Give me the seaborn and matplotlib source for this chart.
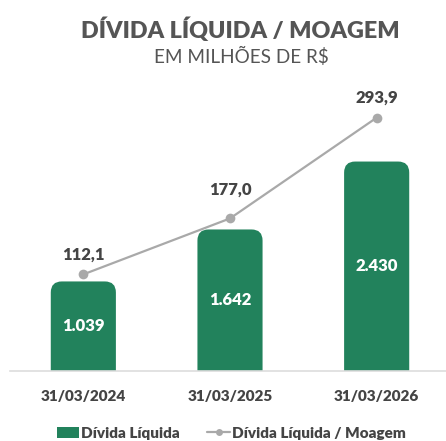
import pandas as pd
import numpy as np
import matplotlib.pyplot as plt
import seaborn as sns
from matplotlib.patches import FancyBboxPatch, Patch
from matplotlib.lines import Line2D

# dados
datas = ['31/03/2024', '31/03/2025', '31/03/2026']
divida_liquida = [1039, 1642, 2430]
divida_moagem = [112.1, 177.0, 293.9]
# deslocamento vertical dos rótulos da linha (px)
desloc_rotulo = [20, 29, 20]

df = pd.DataFrame({'data': datas, 'divida': divida_liquida, 'moagem': divida_moagem})

verde = '#22825c'
cinza_linha = '#a9a9a9'
cinza_texto = '#444444'
peso = 'heavy'

sns.set_theme(style="white")
plt.rcParams['font.family'] = ['Lato', 'DejaVu Sans']

fig = plt.figure(figsize=(4.46, 4.41), dpi=100)
ax = fig.add_axes([10 / 446, 70 / 441, 440 / 446, 281 / 441])

sns.barplot(data=df, x='data', y='divida', color=verde, width=0.444,
            saturation=1, ax=ax)
ax.set_ylim(0, 3260)
ax.set_xlim(-0.5, 2.5)

# cantos superiores arredondados
raio_px = 11
px_x = (ax.transData.transform((1, 0))[0] - ax.transData.transform((0, 0))[0])
px_y = (ax.transData.transform((0, 1))[1] - ax.transData.transform((0, 0))[1])
rx = raio_px / px_x
ry = raio_px / px_y
for p in list(ax.patches):
    x0, y0 = p.get_x(), p.get_y()
    w, h = p.get_width(), p.get_height()
    p.set_visible(False)
    nb = FancyBboxPatch((x0, y0 - ry * 2), w, h + ry * 2,
                        boxstyle=f"round,pad=0,rounding_size={rx}",
                        mutation_aspect=ry / rx, facecolor=verde,
                        edgecolor='none', clip_on=True)
    ax.add_patch(nb)

for i, v in enumerate(divida_liquida):
    ax.text(i, v / 2, f"{v:,.0f}".replace(',', '.'), ha='center', va='center',
            color='white', fontsize=12, fontweight=peso)

ax2 = ax.twinx()
sns.lineplot(x=[0, 1, 2], y=divida_moagem, color=cinza_linha, marker='o',
             markersize=7, markeredgewidth=0, linewidth=1.6, ax=ax2)
ax2.set_ylim(0, 326)
for i, v in enumerate(divida_moagem):
    ax2.annotate(f"{v:.1f}".replace('.', ','), (i, v),
                 xytext=(0, desloc_rotulo[i] * 0.72), textcoords='offset points',
                 ha='center', va='center', color=cinza_texto, fontsize=12,
                 fontweight=peso)

for a in (ax, ax2):
    for s in ['top', 'right', 'left']:
        a.spines[s].set_visible(False)
    a.set_yticks([])
    a.set_ylabel('')
ax2.spines['bottom'].set_visible(False)
ax.spines['bottom'].set_color('#dddddd')
ax.spines['bottom'].set_linewidth(1.2)
ax.set_xlabel('')
ax.tick_params(axis='x', length=0, pad=14, labelsize=11, labelcolor=cinza_texto)
for t in ax.get_xticklabels():
    t.set_fontweight(peso)

fig.text(0.539, 1 - 30 / 441, 'DÍVIDA LÍQUIDA / MOAGEM', ha='center', va='center',
         fontsize=16.8, fontweight=peso, color='#555555')
fig.text(0.542, 1 - 56 / 441, 'EM MILHÕES DE R$', ha='center', va='center',
         fontsize=13.6, color='#555555')

handles = [Patch(facecolor=verde, edgecolor='none'),
           Line2D([0], [0], color=cinza_linha, marker='o', markersize=5,
                  markeredgewidth=0, linewidth=1.6)]
leg = fig.legend(handles, ['Dívida Líquida', 'Dívida Líquida / Moagem'],
                 loc='center', bbox_to_anchor=(0.518, 1 - 433 / 441), ncol=2,
                 frameon=False, handlelength=1.5, handletextpad=0.1,
                 columnspacing=1.8, prop={'weight': peso, 'size': 11})
for t in leg.get_texts():
    t.set_color(cinza_texto)

fig.savefig('out.png', dpi=100)
